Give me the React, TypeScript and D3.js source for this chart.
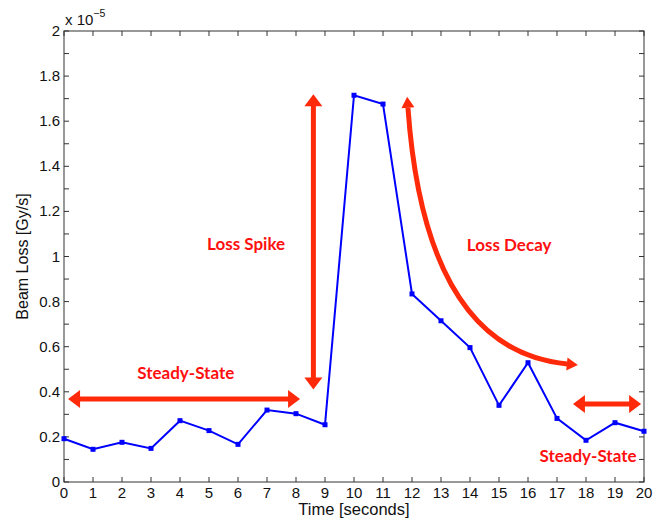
import React from "react";
import * as d3 from "d3";

const times = [0,1,2,3,4,5,6,7,8,9,10,11,12,13,14,15,16,17,18,19,20];
const beamLoss = [0.192,0.145,0.176,0.149,0.272,0.228,0.167,0.319,0.303,0.254,1.715,1.676,0.834,0.715,0.596,0.340,0.529,0.282,0.185,0.263,0.225];
const xTicks = d3.range(0, 21, 1);
const yTicks = d3.range(0, 21, 1).map((d) => d / 10);
const yLabels = [0, 0.2, 0.4, 0.6, 0.8, 1, 1.2, 1.4, 1.6, 1.8, 2];

// annotations in data units (time, value x1e-5)
const steadyLeft = { x1: 0.14, x2: 8.14, y: 0.368 };
const steadyRight = { x1: 17.55, x2: 19.9, y: 0.346 };
const spike = { x: 8.6, y1: 1.72, y2: 0.41 };
const decay = { p0: [11.86, 1.66], p1: [12.45, 0.585], p2: [17.35, 0.523] };
const labels = [
  { text: "Steady-State", x: 4.2, y: 0.458 },
  { text: "Loss Spike", x: 6.28, y: 1.03 },
  { text: "Loss Decay", x: 15.35, y: 1.025 },
  { text: "Steady-State", x: 18.07, y: 0.088 },
];

const W = 662, H = 520;
const M = { left: 64, right: 644, top: 31, bottom: 482 };
const RED = "#ff2a0a";
const TEXTRED = "#ff1010";

function head(tip: number[], dir: number[], len: number, wid: number) {
  const n = Math.hypot(dir[0], dir[1]);
  const ux = dir[0] / n, uy = dir[1] / n;
  const bx = tip[0] - ux * len, by = tip[1] - uy * len;
  const px = -uy * wid / 2, py = ux * wid / 2;
  return `${tip[0]},${tip[1]} ${bx + px},${by + py} ${bx - px},${by - py}`;
}

export default function App() {
  const x = d3.scaleLinear().domain([0, 20]).range([M.left, M.right]);
  const y = d3.scaleLinear().domain([0, 2]).range([M.bottom, M.top]);
  const line = d3.line<number>().x((_, i) => x(times[i])).y((d) => y(d));
  const tl = 5;
  const font = "'Liberation Sans', Arial, Helvetica, sans-serif";

  const hl = 12, hw = 18;
  const sl = steadyLeft, sr = steadyRight;
  const d0 = [x(decay.p0[0]), y(decay.p0[1])];
  const d1 = [x(decay.p1[0]), y(decay.p1[1])];
  const d2 = [x(decay.p2[0]), y(decay.p2[1])];
  const qpath = d3.path();
  qpath.moveTo(d0[0], d0[1]);
  qpath.quadraticCurveTo(d1[0], d1[1], d2[0], d2[1]);

  return (
    <svg width={W} height={H} style={{ position: "absolute", left: 0, top: 0, background: "#fff" }} fontFamily={font}>
      <rect x={0} y={0} width={W} height={H} fill="#fff" />
      {/* ticks */}
      <g stroke="#333" strokeWidth={1}>
        {xTicks.map((t) => (
          <g key={"x" + t}>
            <line x1={x(t)} x2={x(t)} y1={M.bottom} y2={M.bottom - tl} />
            <line x1={x(t)} x2={x(t)} y1={M.top} y2={M.top + tl} />
          </g>
        ))}
        {yTicks.map((t) => (
          <g key={"y" + t}>
            <line x1={M.left} x2={M.left + tl} y1={y(t)} y2={y(t)} />
            <line x1={M.right} x2={M.right - tl} y1={y(t)} y2={y(t)} />
          </g>
        ))}
        <rect x={M.left} y={M.top} width={M.right - M.left} height={M.bottom - M.top} fill="none" />
      </g>
      <g fontSize={15} fill="#111">
        {xTicks.map((t) => (
          <text key={"xl" + t} x={x(t)} y={M.bottom + 16} textAnchor="middle">{t}</text>
        ))}
        {yLabels.map((t) => (
          <text key={"yl" + t} x={M.left - 4} y={y(t) + 5} textAnchor="end">{String(t)}</text>
        ))}
        <text x={M.left + 1} y={M.top - 6} fontSize={15}>x 10<tspan dy={-8} fontSize={10.5}>−5</tspan></text>
        <text x={(M.left + M.right) / 2} y={515} textAnchor="middle" fontSize={16.5}>Time [seconds]</text>
        <text transform={`translate(28,${(M.top + M.bottom) / 2}) rotate(-90)`} textAnchor="middle" fontSize={16}>Beam Loss [Gy/s]</text>
      </g>
      {/* data */}
      <path d={line(beamLoss) || ""} fill="none" stroke="#0000ff" strokeWidth={2} />
      {beamLoss.map((v, i) => (
        <rect key={i} x={x(times[i]) - 2.5} y={y(v) - 2.5} width={5} height={5} fill="#0000ff" />
      ))}
      {/* annotations */}
      <g fill={RED} stroke="none">
        <line x1={x(sl.x1) + hl - 1} x2={x(sl.x2) - hl + 1} y1={y(sl.y)} y2={y(sl.y)} stroke={RED} strokeWidth={5} />
        <polygon points={head([x(sl.x1), y(sl.y)], [-1, 0], hl, hw)} />
        <polygon points={head([x(sl.x2), y(sl.y)], [1, 0], hl, hw)} />
        <line x1={x(sr.x1) + hl - 1} x2={x(sr.x2) - hl + 1} y1={y(sr.y)} y2={y(sr.y)} stroke={RED} strokeWidth={5} />
        <polygon points={head([x(sr.x1), y(sr.y)], [-1, 0], hl, hw)} />
        <polygon points={head([x(sr.x2), y(sr.y)], [1, 0], hl, hw)} />
        <line x1={x(spike.x)} x2={x(spike.x)} y1={y(spike.y1) + hl - 1} y2={y(spike.y2) - hl + 1} stroke={RED} strokeWidth={5} />
        <polygon points={head([x(spike.x), y(spike.y1)], [0, -1], hl, hw)} />
        <polygon points={head([x(spike.x), y(spike.y2)], [0, 1], hl, hw)} />
        <path d={qpath.toString()} fill="none" stroke={RED} strokeWidth={5} />
        <polygon points={head([d0[0] + (d0[0] - d1[0]) * 0.045, d0[1] + (d0[1] - d1[1]) * 0.045], [d0[0] - d1[0], d0[1] - d1[1]], 11, 13)} />
        <polygon points={head([d2[0] + (d2[0] - d1[0]) * 0.075, d2[1] + (d2[1] - d1[1]) * 0.075], [d2[0] - d1[0], d2[1] - d1[1]], 11, 13)} />
      </g>
      <g fontFamily="Lato, 'Open Sans', sans-serif" fontWeight="bold" fontSize={17} fill={TEXTRED} textAnchor="middle">
        {labels.map((l, i) => (
          <text key={i} x={x(l.x)} y={y(l.y)}>{l.text}</text>
        ))}
      </g>
    </svg>
  );
}
